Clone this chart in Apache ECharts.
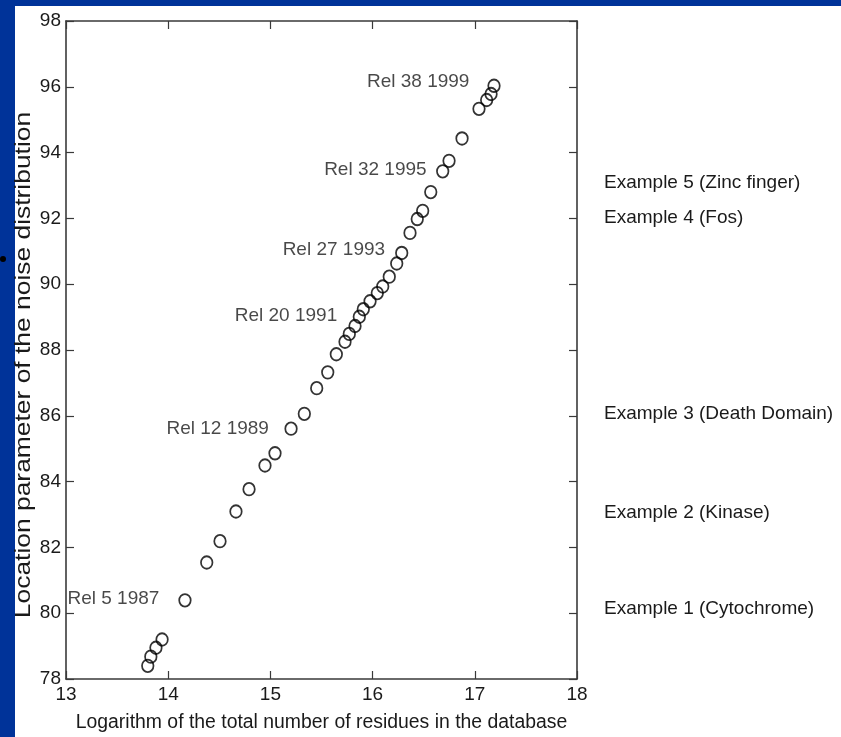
<!DOCTYPE html>
<html>
<head>
<meta charset="utf-8">
<script src="https://cdn.jsdelivr.net/npm/echarts@6/dist/echarts.min.js"></script>
<style>
  html, body { margin: 0; padding: 0; background: #003399; }
  #panel { position: absolute; left: 15px; top: 6px; width: 826px; height: 731px; background: #ffffff; }
  #chart { position: absolute; left: 0; top: 0; width: 841px; height: 737px; }
</style>
</head>
<body>
<div id="panel"></div>
<div id="chart"></div>
<script>
// ---- data ----
const logResidues = [13.80, 13.83, 13.88, 13.94, 14.164, 14.377, 14.507, 14.663, 14.791, 14.947,
  15.045, 15.202, 15.332, 15.453, 15.561, 15.645, 15.730, 15.772, 15.828, 15.870,
  15.909, 15.975, 16.046, 16.099, 16.163, 16.236, 16.285, 16.366, 16.437, 16.490,
  16.569, 16.686, 16.748, 16.875, 17.041, 17.116, 17.159, 17.188];
const locationParam = [78.40, 78.68, 78.95, 79.20, 80.39, 81.54, 82.19, 83.09, 83.77, 84.49,
  84.86, 85.61, 86.06, 86.84, 87.32, 87.87, 88.25, 88.49, 88.73, 89.01,
  89.24, 89.48, 89.73, 89.93, 90.23, 90.63, 90.95, 91.56, 91.98, 92.23,
  92.80, 93.43, 93.75, 94.43, 95.33, 95.60, 95.78, 96.03];
const releaseNames = ['Rel 5 1987', 'Rel 12 1989', 'Rel 20 1991', 'Rel 27 1993', 'Rel 32 1995', 'Rel 38 1999'];
const releasePoint = [4, 11, 19, 26, 31, 37];
const exampleNames = ['Example 1 (Cytochrome)', 'Example 2 (Kinase)', 'Example 3 (Death Domain)', 'Example 4 (Fos)', 'Example 5 (Zinc finger)'];
const exampleValues = [80.13, 83.04, 86.07, 92.03, 93.08];
const xTicks = [13, 14, 15, 16, 17, 18];
const yTicks = [78, 80, 82, 84, 86, 88, 90, 92, 94, 96, 98];
const xTitle = 'Logarithm of the total number of residues in the database';
const yTitle = 'Location parameter of the noise distribution';

// ---- styles ----
const FONT = "'Liberation Sans', Arial, sans-serif";
const TXT = '#1a1a1a';
const AX = '#3a3a3a';
const labelLayout = [
  { distance: 19, dy: -1.5 },
  { distance: 15.5, dy: 0 },
  { distance: 15.5, dy: -0.7 },
  { distance: 10, dy: -2.7 },
  { distance: 9.5, dy: -1.3 },
  { distance: 18, dy: -4 }
];

const points = logResidues.map((x, i) => {
  const item = { value: [x, locationParam[i]] };
  const k = releasePoint.indexOf(i);
  if (k >= 0) {
    item.label = {
      show: true, formatter: releaseNames[k], position: 'left',
      distance: labelLayout[k].distance, offset: [0, labelLayout[k].dy],
      color: TXT, fontSize: 19, fontFamily: FONT
    };
  }
  return item;
});

const chart = echarts.init(document.getElementById('chart'), null, { renderer: 'canvas' });
const axisCommon = {
  axisLine: { show: true, lineStyle: { color: AX, width: 1.6 } },
  axisTick: { show: true, inside: true, length: 8, lineStyle: { color: AX, width: 1.2 } },
  splitLine: { show: false }
};
chart.setOption({
  backgroundColor: 'transparent',
  animation: false,
  grid: { left: 66, right: 264, top: 21, bottom: 49, containLabel: false },
  xAxis: [
    Object.assign({
      type: 'value', position: 'bottom', min: xTicks[0], max: xTicks[xTicks.length - 1], interval: 1,
      axisLabel: { color: TXT, fontSize: 19, fontFamily: FONT, margin: 6 },
      name: xTitle, nameLocation: 'middle', nameGap: 34,
      nameTextStyle: { color: TXT, fontSize: 19.4, fontFamily: FONT }
    }, axisCommon),
    Object.assign({
      type: 'value', position: 'top', min: xTicks[0], max: xTicks[xTicks.length - 1], interval: 1,
      axisLabel: { show: false }
    }, axisCommon)
  ],
  yAxis: [
    Object.assign({
      type: 'value', position: 'left', min: yTicks[0], max: yTicks[yTicks.length - 1], interval: 2,
      axisLabel: { color: TXT, fontSize: 19, fontFamily: FONT, margin: 5 }
    }, axisCommon),
    Object.assign({
      type: 'value', position: 'right', min: yTicks[0], max: yTicks[yTicks.length - 1], interval: 2,
      axisLabel: { show: false }
    }, axisCommon)
  ],
  series: [{
    type: 'scatter',
    xAxisIndex: 0, yAxisIndex: 0,
    symbol: 'circle', symbolSize: [11.5, 12.5],
    itemStyle: { color: 'rgba(0,0,0,0)', borderColor: '#000', borderWidth: 1.8 },
    data: points
  }]
});

const graphics = [
  { type: 'circle', shape: { cx: 3, cy: 259, r: 3 }, style: { fill: '#000' } },
  { type: 'text', x: 24, y: 365, rotation: Math.PI / 2, scaleX: 1.2, scaleY: 1,
    style: { text: yTitle, fill: TXT, font: '22px ' + FONT, align: 'center', verticalAlign: 'middle' } }
];
exampleNames.forEach((name, i) => {
  const py = chart.convertToPixel({ yAxisIndex: 0 }, exampleValues[i]);
  graphics.push({ type: 'text', x: 604, y: py,
    style: { text: name, fill: TXT, font: '19px ' + FONT, align: 'left', verticalAlign: 'middle' } });
});
chart.setOption({ graphic: graphics });
</script>
</body>
</html>
